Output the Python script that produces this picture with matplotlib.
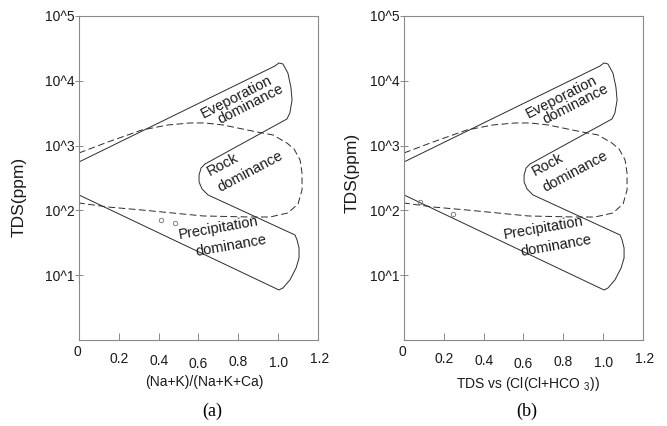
import numpy as np
import matplotlib
matplotlib.use("Agg")
import matplotlib.pyplot as plt
import matplotlib.transforms as mtransforms
from matplotlib.ticker import NullLocator

plt.rcParams["font.family"] = ["Liberation Sans", "DejaVu Sans"]
plt.rcParams["mathtext.fontset"] = "custom"
plt.rcParams["mathtext.rm"] = "Liberation Sans"

# Gibbs boundary, solid outline (x ratio, log10 TDS)
solid_x = [0, 0.984, 1.004, 1.024, 1.049, 1.064, 1.070, 1.059, 1.044,
           0.633, 0.613, 0.603, 0.603, 0.618, 0.648,
           1.085, 1.095, 1.105, 1.105, 1.09, 1.059, 1.024, 1.004, 0]
solid_log = [2.747, 4.228, 4.275, 4.259, 4.12, 3.904, 3.704, 3.503, 3.41,
             2.716, 2.654, 2.546, 2.438, 2.33, 2.238,
             1.62, 1.543, 1.42, 1.265, 1.11, 0.926, 0.802, 0.772, 2.238]

# dashed rock-dominance envelope
dash_x = [0, 0.146, 0.316, 0.447, 0.557, 0.633, 0.723, 0.894, 0.974, 1.044,
          1.08, 1.11, 1.12, 1.12, 1.10, 1.049, 0.959, 0.859, 0.623, 0.316, 0.146, 0]
dash_log = [2.886, 3.056, 3.241, 3.318, 3.349, 3.349, 3.318, 3.21, 3.164, 3.04,
            2.948, 2.778, 2.577, 2.315, 2.099, 1.96, 1.898, 1.898, 1.914, 2.006, 2.052, 2.114]

# samples
samples_a_x = [0.41, 0.48]
samples_a_tds = [71, 64]
samples_b_x = [0.08, 0.246]
samples_b_tds = [134, 88]

# zone labels
zone_text = ["Eveporation", "dominance", "Rock", "dominance", "Precipitation", "dominance"]
zone_x = [0.79, 0.862, 0.72, 0.862, 0.698, 0.763]
zone_tds = [5620, 4300, 510, 390, 53.5, 28]
zone_rot = [27, 27, 28, 28, 10, 10]

xticks = [0, 0.2, 0.4, 0.6, 0.8, 1.0, 1.2]
xtick_labels = ["0", "0.2", "0.4", "0.6", "0.8", "1.0", "1.2"]
yticks = [1e1, 1e2, 1e3, 1e4, 1e5]
ytick_labels = ["10^1", "10^2", "10^3", "10^4", "10^5"]

panels = [
    ("(Na+K)/(Na+K+Ca)", "(a)", samples_a_x, samples_a_tds, 0.1184, (0.523, -0.108), (-0.2176, 0.441), 0.318),
    (r"TDS vs (Cl(Cl+HCO $\mathregular{_3}$))", "(b)", samples_b_x, samples_b_tds, 0.6057, (0.519, -0.108), (-0.184, 0.515), 0.790),
]

# wavy x tick label drops, px below the axis
xlabel_drop = [5, 12, 14, 17, 15, 16, 12]
xlabel_shift = [-2, 0, 0, 0, 0, 0, 2]

fig = plt.figure(figsize=(6.67, 4.26), dpi=100)
line_col = "#2b2b2b"
frame_col = "#8a8a8a"

for xlabel, tag, sx, sy, left, xl_pos, yl_pos, tag_x in panels:
    ax = fig.add_axes([left, 0.2019, 0.3583, 0.7606])
    ax.set_yscale("log")
    ax.plot(solid_x, 10 ** np.array(solid_log), color=line_col, lw=0.7)
    dl, = ax.plot(dash_x, 10 ** np.array(dash_log), color=line_col, lw=0.7)
    dl.set_dashes((7, 3.5))
    ax.plot(sx, sy, "o", ms=3.2, mfc="none", mec="#6e6e6e", mew=0.6)
    for t, x, y, r in zip(zone_text, zone_x, zone_tds, zone_rot):
        ax.text(x, y, t, rotation=r, ha="center", va="center", fontsize=10.5,
                color="#1a1a1a", rotation_mode="anchor")

    ax.set_xlim(0, 1.2)
    ax.set_ylim(1, 1e5)
    ax.set_xticks(xticks)
    ax.set_xticklabels([])
    ax.set_yticks(yticks)
    ax.set_yticklabels(ytick_labels)
    ax.yaxis.set_minor_locator(NullLocator())
    ax.tick_params(axis="x", direction="in", length=5, width=0.7, color=frame_col)
    ax.tick_params(axis="y", direction="inout", length=6, width=0.7, color=frame_col,
                   labelsize=10, labelcolor="#1a1a1a", pad=0)
    for spine in ax.spines.values():
        spine.set_color(frame_col)
        spine.set_linewidth(0.8)

    # x tick labels drawn by hand so each can sit at its own height
    for xv, lab, drop, shift in zip(xticks, xtick_labels, xlabel_drop, xlabel_shift):
        off = mtransforms.ScaledTranslation(shift / 100, -drop / 100, fig.dpi_scale_trans)
        ax.text(xv, 0, lab, transform=ax.get_xaxis_transform() + off,
                ha="center", va="top", fontsize=10, color="#1a1a1a")

    ax.set_xlabel(xlabel, fontsize=10, color="#1a1a1a")
    ax.xaxis.set_label_coords(*xl_pos)
    ax.set_ylabel("TDS(ppm)", fontsize=12.5, color="#1a1a1a")
    ax.yaxis.set_label_coords(*yl_pos)

    fig.text(tag_x, 1 - 411 / 426, tag, ha="center", va="center",
             fontsize=13, family="Liberation Serif")

fig.savefig("out.png", dpi=100)
